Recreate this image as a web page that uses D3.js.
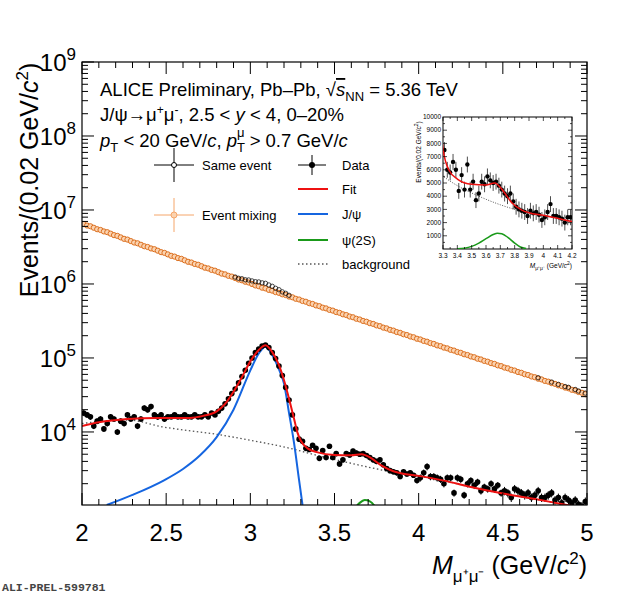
<!DOCTYPE html>
<html>
<head>
<meta charset="utf-8">
<style> body { margin: 0; background: #fff; } text { font-family: "Liberation Sans", Arial, sans-serif; } </style>
<script src="https://d3js.org/d3.v7.min.js"></script>
</head>
<body>
<svg id="chart" width="620" height="597"></svg>
<script>
// bin centres: 2.01 .. 4.99, width 0.02
const binLow = 2.0, binW = 0.02;
// data (signal after mixed-event subtraction), in units of 1e3
const dataK = [
  18,17,16,12,14,15,11,13,16,15,10,14,13,17,15,
  16,12,15,21,20,22,17,16,17,15,16,16,17,16,16,
  17,16,16,17,16,16,17,16,18,17,
  19,21,24,28,33,38,46,56,68,85,
  100,118,132,145,150,138,118,98,78,58,40,27,17,11,8,
  7.5,6,5.8,6.6,6.0,4.4,5.6,4.5,6.4,4.5,
  5.1,3.7,4.2,5.1,4.9,5.5,5.2,5.0,5.1,4.8,4.5,4.2,4.0,4.2,3.6,3.2,3.0,2.9,2.8,2.5,2.9,2.7,2.8,2.6,2.2,
  2.4,2.8,3.4,2.5,2.5,2.4,2.3,2.0,2.4,2.4,1.5,2.4,2.3,1.4,2.0,2.2,1.9,2.1,1.6,1.8,1.7,2.0,1.7,1.9,1.5,
  1.6,1.5,1.3,1.7,1.6,1.5,1.4,1.5,1.3,1.4,1.6,1.3,1.3,1.4,1.5,1.2,1.3,1.1,1.3,1.2,1.1,1.2,1.05,1.0,1.15
];
// relative stat. error (%) per 0.5 GeV/c2 segment
const errPct = [9, 6, 3, 8, 11, 13];
// mixed-event, log10
const mixedLog = [
  6.81,6.79,6.78,6.76,6.74,6.73,6.71,6.70,6.68,6.66,6.65,6.63,6.61,6.60,6.58,6.56,6.55,6.53,6.51,6.50,6.48,6.47,6.45,6.43,6.42,
  6.40,6.38,6.37,6.35,6.34,6.32,6.30,6.29,6.27,6.26,6.24,6.22,6.21,6.19,6.18,6.16,6.14,6.13,6.11,6.10,6.08,6.06,6.05,6.03,6.02,
  6.00,5.98,5.97,5.95,5.94,5.92,5.91,5.89,5.88,5.86,5.85,5.83,5.82,5.80,5.79,5.77,5.76,5.74,5.73,5.71,5.70,5.68,5.67,5.65,5.64,
  5.62,5.61,5.59,5.58,5.56,5.55,5.53,5.52,5.50,5.49,5.47,5.46,5.44,5.43,5.41,5.40,5.38,5.37,5.35,5.34,5.32,5.31,5.29,5.28,5.26,
  5.25,5.23,5.22,5.20,5.19,5.17,5.16,5.14,5.13,5.11,5.10,5.08,5.07,5.05,5.04,5.02,5.01,4.99,4.98,4.96,4.95,4.93,4.92,4.90,4.89,
  4.87,4.86,4.84,4.83,4.81,4.80,4.78,4.77,4.75,4.74,4.72,4.71,4.69,4.68,4.66,4.65,4.63,4.62,4.60,4.59,4.57,4.56,4.54,4.53,4.51
];
// curves: [mass, value]
const fitCurve = [[2.0,12000],[2.1,13500],[2.27,15000],[2.45,15500],[2.64,15500],[2.72,16500],[2.8,19000],[2.85,24000],[2.9,35000],[2.95,55000],[3.0,90000],[3.05,128000],[3.09,148000],[3.13,120000],[3.17,80000],[3.2,50000],[3.23,28000],[3.26,15000],[3.28,9800],[3.3,7600],[3.34,6000],[3.4,5300],[3.5,4900],[3.6,4850],[3.66,5000],[3.72,4400],[3.78,3500],[3.85,2950],[3.9,2750],[4.0,2550],[4.15,2200],[4.31,1800],[4.5,1470],[4.7,1230],[4.88,1030],[5.0,920]];
const jpsiCurve = [[2.147,1030],[2.3,1410],[2.49,2240],[2.6,3160],[2.7,4800],[2.8,8500],[2.9,20000],[3.0,68000],[3.05,115000],[3.09,142000],[3.13,110000],[3.17,70000],[3.2,45000],[3.23,18000],[3.26,7000],[3.29,2200],[3.31,1030]];
const psi2sCurve = [[3.4,10],[3.45,60],[3.5,200],[3.55,450],[3.6,780],[3.65,1100],[3.68,1200],[3.71,1150],[3.75,900],[3.8,450],[3.84,150],[3.88,30]];
const bkgCurve = [[2.0,13000],[2.15,14200],[2.27,14500],[2.48,11700],[2.65,10300],[2.8,9300],[2.95,8100],[3.1,7000],[3.25,5900],[3.4,4800],[3.55,4000],[3.7,3350],[3.8,3000],[3.9,2700],[4.0,2520],[4.15,2200],[4.31,1800],[4.5,1470],[4.7,1230],[4.88,1030],[5.0,920]];
const xTicks = [2, 2.5, 3, 3.5, 4, 4.5, 5];
const yDecades = [4, 5, 6, 7, 8, 9];
const insetXTicks = [3.3,3.4,3.5,3.6,3.7,3.8,3.9,4,4.1,4.2];
const insetYTicks = [1000,2000,3000,4000,5000,6000,7000,8000,9000,10000];

const mass = dataK.map((d, i) => binLow + binW * (i + 0.5));
const data = dataK.map(d => d * 1000);
const mixed = mixedLog.map(d => Math.pow(10, d));
const same = mixed.map((d, i) => d + data[i]);
const errOf = i => data[i] * errPct[Math.min(5, Math.floor((mass[i] - 2) / 0.5))] / 100;

const svg = d3.select("#chart");
const L = 82, R = 587, T = 62, B = 505;
const x = d3.scaleLinear().domain([2, 5]).range([L, R]);
const y = d3.scaleLog().domain([1030, 1e9]).range([B, T]);

const plot = svg.append("g");
svg.append("clipPath").attr("id", "pc").append("rect")
  .attr("x", L).attr("y", T).attr("width", R - L).attr("height", B - T);
const g = plot.append("g").attr("clip-path", "url(#pc)");

// mixed events
g.selectAll(".mix").data(mixed).join("circle")
  .attr("cx", (d, i) => x(mass[i])).attr("cy", d => y(d)).attr("r", 2.6)
  .attr("fill", "#fbd3b0").attr("stroke", "#dc7020").attr("stroke-width", 1);
// same events (only visible above mixed)
g.selectAll(".same").data(same).join("circle")
  .attr("cx", (d, i) => x(mass[i])).attr("cy", d => y(d)).attr("r", 2.2)
  .attr("fill", "none").attr("stroke", "#000").attr("stroke-width", 0.7)
  .attr("opacity", (d, i) => data[i] / mixed[i] > 0.03 ? 1 : 0);

const line = d3.line().x(d => x(d[0])).y(d => y(Math.max(d[1], 1))).curve(d3.curveMonotoneX);
g.append("path").attr("d", line(bkgCurve)).attr("fill", "none").attr("stroke", "#555").attr("stroke-width", 1.3).attr("stroke-dasharray", "1.5,2.5");
g.append("path").attr("d", line(jpsiCurve)).attr("fill", "none").attr("stroke", "#1565e0").attr("stroke-width", 2);
g.append("path").attr("d", line(psi2sCurve)).attr("fill", "none").attr("stroke", "#1a9a1a").attr("stroke-width", 2);

// data points
const dp = g.selectAll(".dp").data(data).join("g");
dp.append("line").attr("x1", (d, i) => x(mass[i])).attr("x2", (d, i) => x(mass[i]))
  .attr("y1", (d, i) => y(d + errOf(i))).attr("y2", (d, i) => y(Math.max(d - errOf(i), 1)))
  .attr("stroke", "#000").attr("stroke-width", 1);
dp.append("circle").attr("cx", (d, i) => x(mass[i])).attr("cy", d => y(d)).attr("r", 2.8).attr("fill", "#000");
g.append("path").attr("d", line(fitCurve)).attr("fill", "none").attr("stroke", "#ee1111").attr("stroke-width", 2);

// frame and ticks
plot.append("rect").attr("x", L).attr("y", T).attr("width", R - L).attr("height", B - T)
  .attr("fill", "none").attr("stroke", "#000").attr("stroke-width", 1.2);
const tk = plot.append("g").attr("stroke", "#000").attr("stroke-width", 1);
d3.range(20, 51).forEach(k => {
  const v = k / 10, len = k % 5 === 0 ? 12 : 6;
  tk.append("line").attr("x1", x(v)).attr("x2", x(v)).attr("y1", B).attr("y2", B - len);
  tk.append("line").attr("x1", x(v)).attr("x2", x(v)).attr("y1", T).attr("y2", T + len);
});
d3.range(3, 9).forEach(e => d3.range(1, 10).forEach(m => {
  const v = m * Math.pow(10, e);
  if (v < 1030 || v > 1e9) return;
  const len = m === 1 ? 12 : 6;
  tk.append("line").attr("x1", L).attr("x2", L + len).attr("y1", y(v)).attr("y2", y(v));
  tk.append("line").attr("x1", R).attr("x2", R - len).attr("y1", y(v)).attr("y2", y(v));
}));
tk.append("line").attr("x1", L).attr("x2", L + 12).attr("y1", y(1e9)).attr("y2", y(1e9));

plot.selectAll(".xl").data(xTicks).join("text")
  .attr("x", d => x(d)).attr("y", B + 36).attr("text-anchor", "middle")
  .attr("font-size", 24).text(d => d);
const yl = plot.selectAll(".yl").data(yDecades).join("text")
  .attr("x", L - 6).attr("y", d => y(Math.pow(10, d)) + 9).attr("text-anchor", "end").attr("font-size", 24);
yl.append("tspan").text("10");
yl.append("tspan").attr("dy", -11).attr("font-size", 17).text(d => d);

// axis titles
svg.append("text").attr("transform", "translate(38,180) rotate(-90)").attr("text-anchor", "middle")
  .attr("font-size", 25).html('Events/(0.02 GeV/<tspan font-style="italic">c</tspan><tspan dy="-10" font-size="17">2</tspan><tspan dy="10">)</tspan>');
svg.append("text").attr("x", R).attr("y", 574).attr("text-anchor", "end").attr("font-size", 25)
  .html('<tspan font-style="italic">M</tspan><tspan dy="8" font-size="17">μ⁺μ⁻</tspan><tspan dy="-8"> (GeV/</tspan><tspan font-style="italic">c</tspan><tspan dy="-10" font-size="17">2</tspan><tspan dy="10">)</tspan>');
svg.append("text").attr("x", 2).attr("y", 591).attr("font-size", 11.5).attr("fill", "#444")
  .attr("font-weight", "bold").style("font-family", "'Liberation Mono', monospace").text("ALI-PREL-599781");

// header texts
const hd = svg.append("g").attr("font-size", 18.5);
hd.append("text").attr("x", 100).attr("y", 96).html('ALICE Preliminary, Pb–Pb,  √<tspan text-decoration="overline" font-style="italic">s</tspan><tspan dy="5" font-size="13">NN</tspan><tspan dy="-5"> = 5.36 TeV</tspan>');
hd.append("text").attr("x", 100).attr("y", 121).html('J/ψ→μ<tspan dy="-7" font-size="12">+</tspan><tspan dy="7">μ</tspan><tspan dy="-7" font-size="12">-</tspan><tspan dy="7">, 2.5 &lt;   </tspan><tspan font-style="italic">y</tspan> &lt; 4, 0–20%');
hd.append("text").attr("x", 100).attr("y", 147).html('<tspan font-style="italic">p</tspan><tspan dy="5" font-size="13">T</tspan><tspan dy="-5"> &lt; 20 GeV/</tspan><tspan font-style="italic">c</tspan>,   <tspan font-style="italic">p</tspan><tspan dy="5" font-size="13">T</tspan><tspan dy="-15" dx="-8" font-size="13">μ</tspan><tspan dy="10"> &gt; 0.7 GeV/</tspan><tspan font-style="italic">c</tspan>');

// legend
const lg = svg.append("g").attr("font-size", 13);
const lgErr = (cx, cy, col, fill, r) => {
  lg.append("line").attr("x1", cx - 20).attr("x2", cx + 20).attr("y1", cy).attr("y2", cy).attr("stroke", col);
  lg.append("line").attr("x1", cx).attr("x2", cx).attr("y1", cy - 17).attr("y2", cy + 17).attr("stroke", col);
  lg.append("circle").attr("cx", cx).attr("cy", cy).attr("r", r).attr("fill", fill).attr("stroke", col);
};
lgErr(174, 165, "#000", "#fff", 2.5);
lg.append("text").attr("x", 202).attr("y", 170).text("Same event");
lgErr(174, 215, "#f5a66a", "#fbd3b0", 3);
lg.append("text").attr("x", 202).attr("y", 220).text("Event mixing");
lg.append("line").attr("x1", 312).attr("x2", 312).attr("y1", 155).attr("y2", 175).attr("stroke", "#000");
lg.append("line").attr("x1", 298).attr("x2", 326).attr("y1", 165).attr("y2", 165).attr("stroke", "#000");
lg.append("circle").attr("cx", 312).attr("cy", 165).attr("r", 3).attr("fill", "#000");
lg.append("text").attr("x", 342).attr("y", 170).text("Data");
[["Fit", "#ee1111", null, 189], ["J/ψ", "#1565e0", null, 214], ["ψ(2S)", "#1a9a1a", null, 240], ["background", "#555", "1.5,2.5", 264]]
  .forEach(([t, c, da, yy]) => {
    lg.append("line").attr("x1", 298).attr("x2", 328).attr("y1", yy).attr("y2", yy).attr("stroke", c)
      .attr("stroke-width", da ? 1.3 : 2).attr("stroke-dasharray", da);
    lg.append("text").attr("x", 342).attr("y", yy + 5).text(t);
  });

// inset
const iL = 443, iR = 572, iT = 117, iB = 249;
const ix = d3.scaleLinear().domain([3.3, 4.2]).range([iL, iR]);
const iy = d3.scaleLinear().domain([0, 10000]).range([iB, iT]);
const ins = svg.append("g");
ins.append("rect").attr("x", iL).attr("y", iT).attr("width", iR - iL).attr("height", iB - iT).attr("fill", "#fff").attr("stroke", "#000");
ins.append("clipPath").attr("id", "ic").append("rect").attr("x", iL).attr("y", iT).attr("width", iR - iL).attr("height", iB - iT);
const ig = ins.append("g").attr("clip-path", "url(#ic)");
const iline = d3.line().x(d => ix(d[0])).y(d => iy(d[1])).curve(d3.curveMonotoneX);
const inFit = fitCurve.filter(d => d[0] >= 3.28 && d[0] <= 4.35);
const inBkg = bkgCurve.filter(d => d[0] >= 3.25 && d[0] <= 4.35);
ig.append("path").attr("d", iline(inBkg)).attr("fill", "none").attr("stroke", "#555").attr("stroke-dasharray", "1,1.5");
ig.append("path").attr("d", iline(psi2sCurve)).attr("fill", "none").attr("stroke", "#1a9a1a").attr("stroke-width", 1.5);
const idx = d3.range(data.length).filter(i => mass[i] > 3.29 && mass[i] < 4.21);
idx.forEach(i => {
  ig.append("line").attr("x1", ix(mass[i])).attr("x2", ix(mass[i])).attr("y1", iy(data[i] + 600)).attr("y2", iy(data[i] - 600)).attr("stroke", "#000").attr("stroke-width", 0.7);
  ig.append("circle").attr("cx", ix(mass[i])).attr("cy", iy(data[i])).attr("r", 2.2).attr("fill", "#000");
});
ig.append("path").attr("d", iline(inFit)).attr("fill", "none").attr("stroke", "#ee1111").attr("stroke-width", 1.5);
const itk = ins.append("g").attr("stroke", "#000").attr("stroke-width", 0.7);
d3.range(66, 85).forEach(k => {
  const v = k / 20, len = k % 2 === 0 ? 4 : 2;
  itk.append("line").attr("x1", ix(v)).attr("x2", ix(v)).attr("y1", iB).attr("y2", iB - len);
  itk.append("line").attr("x1", ix(v)).attr("x2", ix(v)).attr("y1", iT).attr("y2", iT + len);
});
d3.range(1, 20).forEach(k => {
  const v = k * 500, len = k % 2 === 0 ? 4 : 2;
  itk.append("line").attr("x1", iL).attr("x2", iL + len).attr("y1", iy(v)).attr("y2", iy(v));
  itk.append("line").attr("x1", iR).attr("x2", iR - len).attr("y1", iy(v)).attr("y2", iy(v));
});
ins.selectAll(".ixl").data(insetXTicks).join("text").attr("x", d => ix(d)).attr("y", iB + 9)
  .attr("text-anchor", "middle").attr("font-size", 6.5).text(d => d);
ins.selectAll(".iyl").data(insetYTicks).join("text").attr("x", iL - 2).attr("y", d => iy(d) + 2.2)
  .attr("text-anchor", "end").attr("font-size", 6.5).text(d => d);
ins.append("text").attr("transform", `translate(${iL - 22},${iT + 35}) rotate(-90)`).attr("text-anchor", "middle")
  .attr("font-size", 6.5).html('Events/(0.02 GeV/<tspan font-style="italic">c</tspan><tspan dy="-3" font-size="5">2</tspan><tspan dy="3">)</tspan>');
ins.append("text").attr("x", iR).attr("y", iB + 19).attr("text-anchor", "end").attr("font-size", 6.5)
  .html('<tspan font-style="italic">M</tspan><tspan dy="2" font-size="5">μ⁺μ⁻</tspan><tspan dy="-2"> (GeV/</tspan><tspan font-style="italic">c</tspan><tspan dy="-3" font-size="5">2</tspan><tspan dy="3">)</tspan>');
</script>
</body>
</html>
